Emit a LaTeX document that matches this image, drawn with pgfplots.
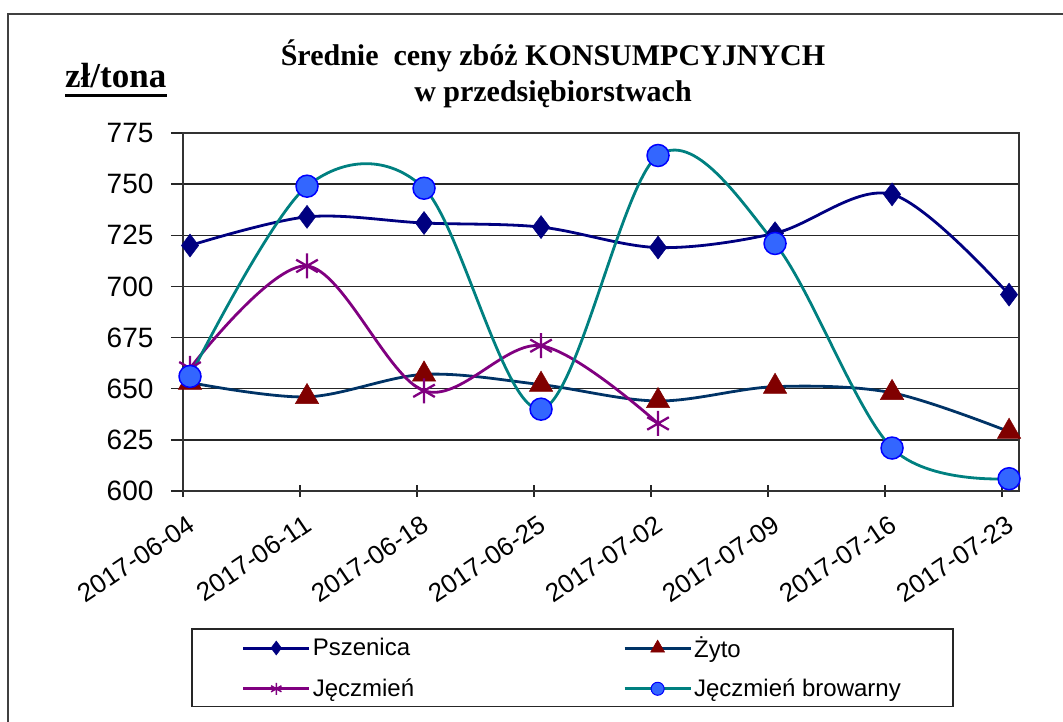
\documentclass[border=0pt]{standalone}
\usepackage{pgfplots}
\pgfplotsset{compat=1.18}
\usepackage{fontspec}
\setmainfont{Liberation Serif}
\newfontfamily\arial{Liberation Sans}
\definecolor{psz}{HTML}{000080}
\definecolor{zytoline}{HTML}{003366}
\definecolor{zytomark}{HTML}{800000}
\definecolor{jecz}{HTML}{800080}
\definecolor{browline}{HTML}{008080}
\definecolor{browfill}{HTML}{3366FF}
\definecolor{browedge}{HTML}{0000FF}
\begin{document}
\begin{tikzpicture}[x=1pt,y=1pt]
\useasboundingbox (0,0) rectangle (1063,722);
\draw[black!75, line width=1.5pt] (8,0) -- (8,708) -- (1063,708);
\node[anchor=base west, inner sep=0pt, font=\fontsize{35}{40}\selectfont\bfseries] at (65,634) {zł/tona};
\draw[black, line width=3pt] (65,626) -- (167,626);
\node[anchor=base, inner sep=0pt, font=\fontsize{30}{36}\selectfont\bfseries] at (553,656) {Średnie~ ceny zbóż KONSUMPCYJNYCH};
\node[anchor=base, inner sep=0pt, font=\fontsize{30}{36}\selectfont\bfseries] at (553,620) {w przedsiębiorstwach};
\begin{axis}[
  at={(183pt,231pt)}, anchor=south west,
  scale only axis, width=836pt, height=358pt,
  xmin=0, xmax=7.145, ymin=600, ymax=775,
  xtick={0,1,2,3,4,5,6,7},
  xticklabels={2017-06-04,2017-06-11,2017-06-18,2017-06-25,2017-07-02,2017-07-09,2017-07-16,2017-07-23},
  ytick={600,625,650,675,700,725,750,775},
  xtick pos=bottom, ytick pos=left,
  /pgf/number format/assume math mode=true,
  ymajorgrids, grid style={black!85, line width=1.3pt},
  axis line style={black!80, line width=1.5pt},
  tick style={black!85, line width=1.3pt},
  major tick length=12pt,
  xtick align=center, ytick align=outside,
  yticklabel style={font=\arial\fontsize{28}{32}\selectfont, anchor=east, xshift=-14pt},
  xticklabel style={font=\arial\fontsize{26}{30}\selectfont, xshift=4pt, yshift=-12pt, rotate=34, anchor=north east},
  clip=false,
  legend columns=2,
  legend cell align=left,
  legend image code/.code={\draw[mark repeat=2,mark phase=2,#1] plot coordinates {(0pt,0pt) (33pt,0pt) (66pt,0pt)};},
  legend style={at={(axis description cs:0.0096,-0.383)}, anchor=north west,
    draw=black!85, line width=1.5pt, font=\arial\fontsize{24}{28}\selectfont,
    inner xsep=50pt, inner ysep=6pt, row sep=16pt,
    /tikz/every even column/.append style={column sep=207pt}},
]
\addlegendimage{psz, line width=3pt, mark=diamond*, mark size=7pt, mark options={fill=psz, draw=psz, line width=0.5pt}}
\addlegendentry{Pszenica}
\addlegendimage{zytoline, line width=3pt, mark=triangle*, mark size=8pt, mark options={fill=zytomark, draw=zytomark, line width=0.5pt}}
\addlegendentry{Żyto}
\addlegendimage{jecz, line width=3pt, mark=asterisk, mark size=6pt, mark options={draw=jecz, line width=1.5pt}}
\addlegendentry{Jęczmień}
\addlegendimage{browline, line width=3pt, mark=*, mark size=6.5pt, mark options={fill=browfill, draw=browedge, line width=1pt}}
\addlegendentry{Jęczmień browarny}

\addplot[forget plot, psz, line width=2.8pt, smooth, tension=0.55, mark=diamond*, mark size=11.5pt, mark options={fill=psz, draw=psz, line width=0.5pt}]
 coordinates {(0.06,720) (1.06,734) (2.06,731) (3.06,729) (4.06,719) (5.06,726) (6.06,745) (7.06,696)};
\addplot[forget plot, zytoline, line width=2.8pt, smooth, tension=0.55, mark=triangle*, mark size=13.5pt, mark options={fill=zytomark, draw=zytomark, line width=0.5pt}]
 coordinates {(0.06,653) (1.06,646) (2.06,657) (3.06,652) (4.06,644) (5.06,651) (6.06,648) (7.06,629)};
\addplot[forget plot, jecz, line width=2.8pt, smooth, tension=0.55, mark=asterisk, mark size=12.5pt, mark options={draw=jecz, line width=2.3pt}]
 coordinates {(0.06,660) (1.06,710) (2.06,649) (3.06,671) (4.06,633)};
\addplot[forget plot, browline, line width=2.8pt, smooth, tension=0.55, mark=*, mark size=11pt, mark options={fill=browfill, draw=browedge, line width=1.5pt}]
 coordinates {(0.06,656) (1.06,749) (2.06,748) (3.06,640) (4.06,764) (5.06,721) (6.06,621) (7.06,606)};
\end{axis}
\end{tikzpicture}
\end{document}
